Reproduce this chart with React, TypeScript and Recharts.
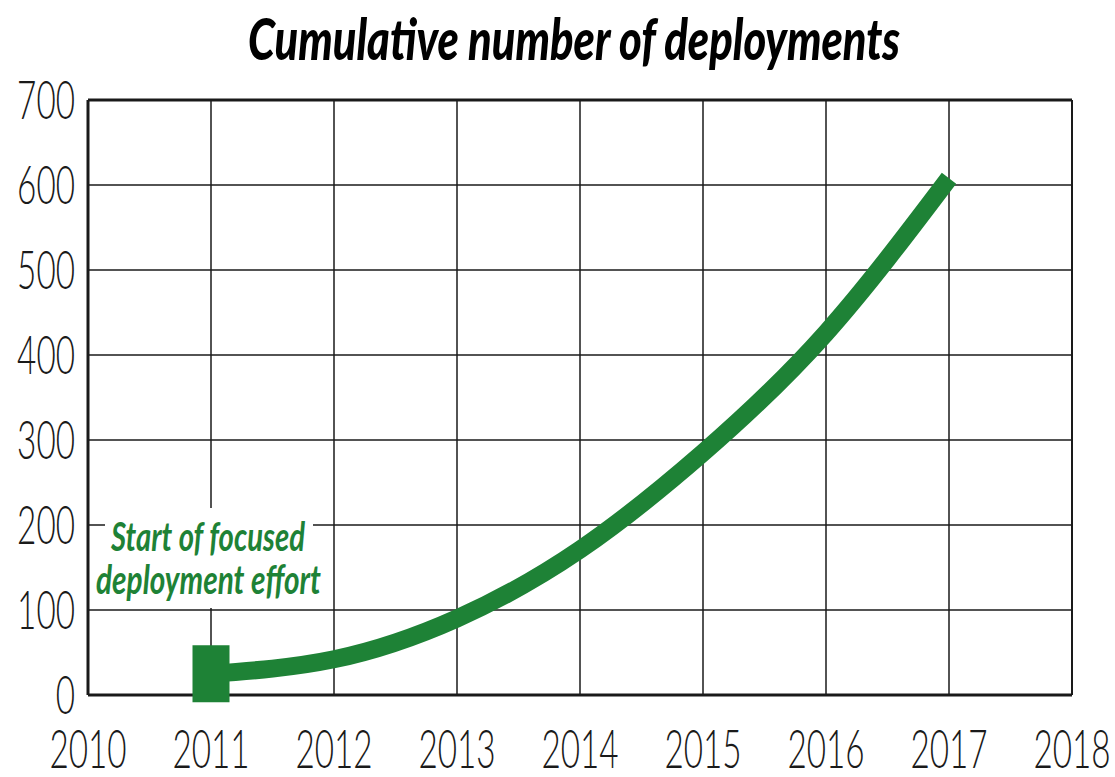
import { CartesianGrid, Line, LineChart, ReferenceLine, XAxis, YAxis } from 'recharts'

const years = [2011, 2012, 2013, 2014, 2015, 2016, 2017]
const deployments = [25, 42, 90, 171, 285, 426, 608]
const xTicks = [2010, 2011, 2012, 2013, 2014, 2015, 2016, 2017, 2018]
const yTicks = [0, 100, 200, 300, 400, 500, 600, 700]

const data = years.map((year, i) => ({ year, value: deployments[i] }))

const GREEN = '#1e8236'
const INK = '#1a1a1a'
const DIGIT_W = 19.3

const YTick = (props: any) => {
  const label = String(props.payload.value)
  return (
    <text
      x={props.x}
      y={props.y}
      dy={19}
      textAnchor='end'
      fontFamily='Lato'
      fontWeight={300}
      fontSize={54}
      fill={INK}
      textLength={label.length * DIGIT_W}
      lengthAdjust='spacingAndGlyphs'
    >
      {label}
    </text>
  )
}

const XTick = (props: any) => {
  const label = String(props.payload.value)
  return (
    <text
      x={props.x}
      y={props.y}
      dy={-2}
      textAnchor='middle'
      fontFamily='Lato'
      fontWeight={300}
      fontSize={54}
      fill={INK}
      textLength={label.length * DIGIT_W}
      lengthAdjust='spacingAndGlyphs'
    >
      {label}
    </text>
  )
}

const StartMarker = (props: any) => {
  if (props.index !== 0) return <g key={props.index} />
  return (
    <rect
      key={props.index}
      x={props.cx - 18.5}
      y={props.cy - 28.5}
      width={37}
      height={57}
      fill={GREEN}
    />
  )
}

export default function App() {
  return (
    <div style={{ position: 'absolute', left: 0, top: 0, width: 1115, height: 777 }}>
      <LineChart
        width={1115}
        height={777}
        data={data}
        margin={{ top: 100, right: 43, bottom: 0, left: 0 }}
      >
        <CartesianGrid stroke={INK} strokeWidth={1.5} />
        <XAxis
          dataKey='year'
          type='number'
          domain={[2010, 2018]}
          ticks={xTicks}
          height={82}
          tickSize={0}
          tickMargin={75}
          tick={<XTick />}
          axisLine={{ stroke: INK, strokeWidth: 3 }}
        />
        <YAxis
          type='number'
          domain={[0, 700]}
          ticks={yTicks}
          width={88}
          tickSize={0}
          tickMargin={13}
          tick={<YTick />}
          axisLine={{ stroke: INK, strokeWidth: 3 }}
        />
        <ReferenceLine y={700} stroke={INK} strokeWidth={3} />
        <ReferenceLine x={2018} stroke={INK} strokeWidth={2} />
        <Line
          type='natural'
          dataKey='value'
          stroke={GREEN}
          strokeWidth={18}
          dot={<StartMarker />}
          activeDot={false}
          isAnimationActive={false}
        />
      </LineChart>
      <svg
        width={1115}
        height={777}
        style={{ position: 'absolute', left: 0, top: 0, pointerEvents: 'none' }}
      >
        <text
          x={248}
          y={60}
          fontFamily='Lato'
          fontWeight={900}
          fontStyle='italic'
          fontSize={58}
          fill='#000'
          textLength={652}
          lengthAdjust='spacingAndGlyphs'
        >
          Cumulative number of deployments
        </text>
        <rect x={105} y={508} width={208} height={100} fill='#fff' />
        <text
          x={111}
          y={551}
          fontFamily='Lato'
          fontWeight={700}
          fontStyle='italic'
          fontSize={40}
          fill={GREEN}
          textLength={194}
          lengthAdjust='spacingAndGlyphs'
        >
          Start of focused
        </text>
        <text
          x={96}
          y={594}
          fontFamily='Lato'
          fontWeight={700}
          fontStyle='italic'
          fontSize={40}
          fill={GREEN}
          textLength={225}
          lengthAdjust='spacingAndGlyphs'
        >
          deployment effort
        </text>
      </svg>
    </div>
  )
}
